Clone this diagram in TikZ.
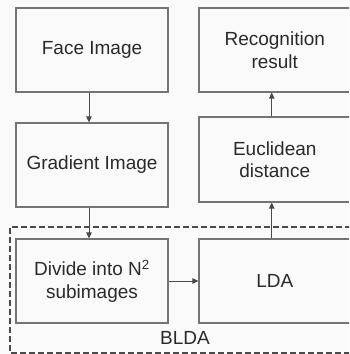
\documentclass[tikz,border=0pt]{standalone}
\usepackage{fontspec}
\setmainfont{Liberation Sans}
\usetikzlibrary{arrows.meta}
\definecolor{boxline}{HTML}{747474}
\definecolor{inktext}{HTML}{2A2A2A}
\definecolor{arrowink}{HTML}{4A4A4A}
\definecolor{paper}{HTML}{FAFAFA}
\tikzset{
  stage/.style={draw=boxline, line width=1.2pt, rectangle, minimum height=84pt,
    text=inktext, align=center, inner sep=0pt,
    font=\fontsize{19}{22.5}\selectfont},
  flow/.style={draw=arrowink, line width=1pt,
    -{Triangle[length=6pt,width=5.5pt]}},
  group/.style={draw=arrowink, line width=1.4pt, dash pattern=on 6pt off 3pt}
}
\begin{document}
\begin{tikzpicture}[x=1pt,y=-1pt]
  \useasboundingbox (0,0) rectangle (349,354);
  \fill[paper] (0,0) rectangle (349,354);
  \clip (0,0) rectangle (349,354);

  % group frame around the block-wise LDA stage
  \draw[group] (360,227) -- (10,227) -- (10,353) -- (360,353);
  \node[text=inktext, font=\fontsize{19}{22.5}\selectfont] (blda) at (185,338) {BLDA};

  % left column
  \node[stage, minimum width=152pt] (face) at (92,50) {Face Image};
  \node[stage, minimum width=152pt] (grad) at (92,165) {Gradient Image};
  \node[stage, minimum width=152pt] (divide) at (92,281) {Divide into N\textsuperscript{2}\\subimages};

  % right column
  \node[stage, minimum width=151.5pt] (result) at (274.75,50) {Recognition\\result};
  \node[stage, minimum width=151.5pt, minimum height=85pt] (dist) at (274.75,159.5) {Euclidean\\distance};
  \node[stage, minimum width=151.5pt] (lda) at (274.75,281) {LDA};

  % data flow
  \draw[flow] ([xshift=-3pt]face.south) -- ([xshift=-3pt]grad.north);
  \draw[flow] ([xshift=-3pt]grad.south) -- ([xshift=-3pt]divide.north);
  \draw[flow] (divide.east) -- (lda.west);
  \draw[flow] ([xshift=-3pt]lda.north) -- ([xshift=-3pt]dist.south);
  \draw[flow] ([xshift=-3pt]dist.north) -- ([xshift=-3pt]result.south);
\end{tikzpicture}
\end{document}
